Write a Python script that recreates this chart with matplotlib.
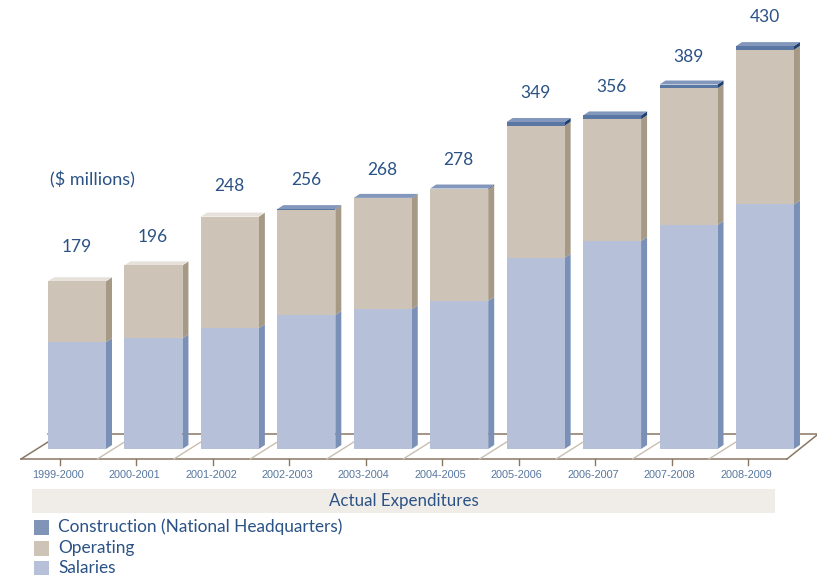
import matplotlib
matplotlib.use("Agg")
import matplotlib.pyplot as plt
from matplotlib.patches import Polygon, Rectangle

years = ["1999-2000", "2000-2001", "2001-2002", "2002-2003", "2003-2004",
         "2004-2005", "2005-2006", "2006-2007", "2007-2008", "2008-2009"]
totals = [179, 196, 248, 256, 268, 278, 349, 356, 389, 430]
salaries = [114, 118, 129, 143, 149, 158, 204, 222, 239, 261]
construction = [0, 0, 0, 0.4, 0.4, 0.8, 4, 4, 4, 4]
operating = [t - s - c for t, s, c in zip(totals, salaries, construction)]

W, H = 817, 575
BASE_PX = 449
PX_PER_UNIT = 0.937
STEP_PX = 76.44
FIRST_PX = 77

BLUE_TEXT = "#2a5285"
SAL, SAL_SIDE = "#b6c1d9", "#7a90b6"
OPR, OPR_SIDE, OPR_TOP = "#cdc3b6", "#a69a87", "#e6e1da"
CON, CON_SIDE, CON_TOP = "#5a76a3", "#1f3f70", "#8297bb"

DX = 6 / STEP_PX
DY = 4 / PX_PER_UNIT
WIDTH = 58 / STEP_PX


def px_x(p):
    return (p - FIRST_PX) / STEP_PX


def px_y(p):
    return (BASE_PX - p) / PX_PER_UNIT


plt.rcParams["font.family"] = "Lato"
fig = plt.figure(figsize=(W / 100, H / 100), dpi=100)
ax = fig.add_axes([0, 0, 1, 1])
ax.set_xlim(px_x(0), px_x(W))
ax.set_ylim(px_y(H), px_y(0))
ax.axis("off")

# floor of the 3d box
floor_dark = "#8a7763"
floor_light = "#c9bfb1"
ax.plot([px_x(21), px_x(787)], [px_y(459), px_y(459)], color=floor_dark, lw=1.1, zorder=1)
ax.plot([px_x(48), px_x(817)], [px_y(434), px_y(434)], color=floor_dark, lw=1.1, zorder=1)
ax.plot([px_x(21), px_x(48)], [px_y(459), px_y(442)], color=floor_dark, lw=1.1, zorder=1)
ax.plot([px_x(787), px_x(817)], [px_y(459), px_y(435)], color=floor_dark, lw=1.1, zorder=1)
for i in range(1, 10):
    x0 = px_x(21) + i
    ax.plot([x0, x0 + 27 / STEP_PX], [px_y(459), px_y(442)], color=floor_light, lw=1, zorder=1)

xs = list(range(len(years)))


def stack_side(x, low, high, side, z=3):
    r = x + WIDTH / 2
    ax.add_patch(Polygon([(r, low), (r + DX, low + DY), (r + DX, high + DY), (r, high)],
                         closed=True, fc=side, ec="none", zorder=z))


def stack_top(x, y, top, z=3):
    l, r = x - WIDTH / 2, x + WIDTH / 2
    ax.add_patch(Polygon([(l, y), (r, y), (r + DX, y + DY), (l + DX, y + DY)],
                         closed=True, fc=top, ec="none", zorder=z))


ax.bar(xs, salaries, width=WIDTH, color=SAL, zorder=4)
ax.bar(xs, operating, width=WIDTH, bottom=salaries, color=OPR, zorder=4)
con_bottom = [s + o for s, o in zip(salaries, operating)]
ax.bar(xs, construction, width=WIDTH, bottom=con_bottom, color=CON, zorder=4)

for i in xs:
    stack_side(i, 0, salaries[i], SAL_SIDE)
    stack_side(i, salaries[i], con_bottom[i], OPR_SIDE)
    if construction[i] > 0:
        stack_side(i, con_bottom[i], totals[i], CON_SIDE)
        stack_top(i, totals[i], CON_TOP)
    else:
        stack_top(i, totals[i], OPR_TOP)

# value labels
label_px = [247, 237, 186, 180, 170, 160, 93, 87, 57, 17]
for i in xs:
    ax.text(i - 0.5 / STEP_PX, px_y(label_px[i]), str(totals[i]), ha="center", va="center",
            fontsize=12.5, color=BLUE_TEXT)

# year ticks + labels
for i in xs:
    tx = px_x(60) + i
    ax.plot([tx, tx], [px_y(459), px_y(465)], color=floor_dark, lw=1, zorder=1)
    ax.text(tx - 2 / STEP_PX, px_y(475), years[i], ha="center", va="center",
            fontsize=7.8, color="#56769e", family="Liberation Sans")

ax.text(px_x(50), px_y(180), "($ millions)", ha="left", va="center",
        fontsize=13, color=BLUE_TEXT)

# title band
ax.add_patch(Rectangle((px_x(32), px_y(513)), 743 / STEP_PX, 24 / PX_PER_UNIT,
                       fc="#f0ede8", ec="none", zorder=1))
ax.text(px_x(404), px_y(501), "Actual Expenditures", ha="center", va="center",
        fontsize=12.2, color=BLUE_TEXT)

# legend
legend_labels = ["Construction (National Headquarters)", "Operating", "Salaries"]
legend_colors = ["#8094b8", OPR, SAL]
legend_px = [527, 548, 568]
for lab, col, py in zip(legend_labels, legend_colors, legend_px):
    ax.add_patch(Rectangle((px_x(34), px_y(py + 7.5)), 15 / STEP_PX, 15 / PX_PER_UNIT,
                           fc=col, ec="none"))
    ax.text(px_x(58), px_y(py), lab, ha="left", va="center", fontsize=12.4, color=BLUE_TEXT)

fig.savefig("out.png", dpi=100)
